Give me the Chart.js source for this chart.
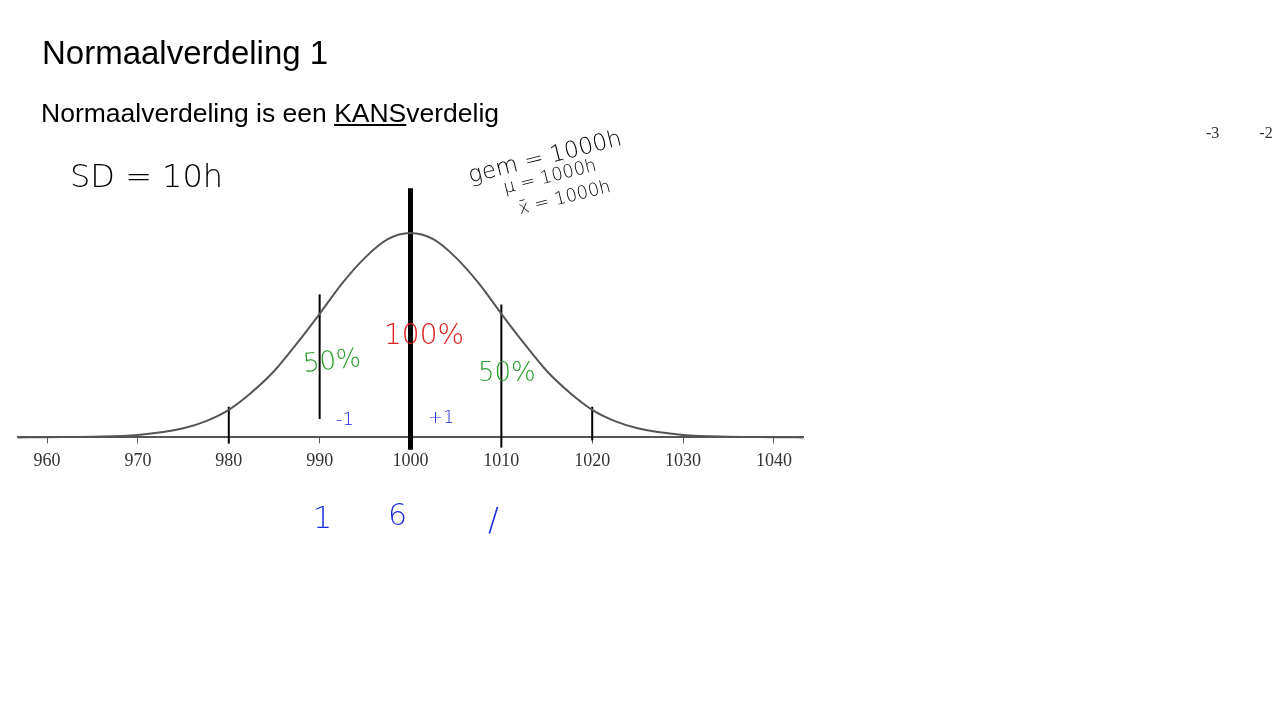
<!DOCTYPE html>
<html>
<head>
<meta charset="utf-8">
<script src="https://cdn.jsdelivr.net/npm/chart.js@4"></script>
<style>
  body { margin: 0; width: 1280px; height: 720px; background: #fff; overflow: hidden; position: relative; font-family: "Liberation Sans", Arial, sans-serif; }
  #wrap { position: absolute; left: 0; top: 0; width: 1280px; height: 720px; }
  .t { position: absolute; white-space: nowrap; }
  .hand { font-family: "DejaVu Sans", sans-serif; font-weight: 300; }
</style>
</head>
<body>
<div id="wrap"><canvas id="chart" width="1280" height="720"></canvas></div>

<div class="t" style="left:42px;top:34px;font-size:33px;color:#000">Normaalverdeling 1</div>
<div class="t" style="left:41px;top:98px;font-size:26.5px;color:#000">Normaalverdeling is een <u>KANS</u>verdelig</div>
<div class="t hand" style="left:70px;top:157px;font-size:32px;color:#000">SD = 10h</div>
<div class="t hand" style="left:466px;top:143px;font-size:23px;color:#000;transform:rotate(-14deg)">gem = 1000h</div>
<div class="t hand" style="left:502px;top:165px;font-size:18px;color:#000;transform:rotate(-14deg)">μ = 1000h</div>
<div class="t hand" style="left:517px;top:186px;font-size:18px;color:#000;transform:rotate(-14deg)">x̄ = 1000h</div>
<div class="t hand" style="left:303px;top:345px;font-size:26px;color:#2a9d2a;transform:rotate(-6deg)">50%</div>
<div class="t hand" style="left:384px;top:318px;font-size:28px;color:#e02020">100%</div>
<div class="t hand" style="left:478px;top:357px;font-size:26px;color:#2a9d2a">50%</div>
<div class="t hand" style="left:336px;top:408px;font-size:18px;color:#1a2ae0">-1</div>
<div class="t hand" style="left:428px;top:406px;font-size:18px;color:#1a2ae0">+1</div>
<div class="t hand" style="left:313px;top:500px;font-size:30px;color:#1a2ae0">1</div>
<div class="t hand" style="left:388px;top:497px;font-size:30px;color:#1a2ae0">6</div>
<div class="t hand" style="left:488px;top:500px;font-size:32px;color:#1a2ae0">/</div>
<div class="t" style="left:1206px;top:124px;font-size:16px;color:#333;font-family:'Liberation Serif',serif">-3&nbsp;&nbsp;&nbsp;&nbsp;&nbsp;&nbsp;&nbsp;&nbsp;&nbsp;&nbsp;-2</div>

<script>
// x values (hours) and curve height (peak = 100)
const xValues = [956.8, 960, 965, 970, 975, 977.5, 980, 982.5, 985, 987.5, 990, 992.5, 995, 997.5, 1000,
                 1002.5, 1005, 1007.5, 1010, 1012.5, 1015, 1017.5, 1020, 1022.5, 1025, 1030, 1035, 1040, 1043.2];
const curveHeights = [0, 0.1, 0.3, 1.2, 4.5, 8, 13.5, 22, 32.5, 46, 60.5, 75.5, 88, 97, 100,
                      97, 88, 75.5, 60.5, 46, 32.5, 22, 13.5, 8, 4.5, 1.2, 0.3, 0.1, 0];
const tickLabels = [960, 970, 980, 990, 1000, 1010, 1020, 1030, 1040];

// hand drawn vertical marks: x, bottom, top
const markX = [980, 990, 1010, 1020];
const markBottom = [-3, 9, -5, -1.5];
const markTop = [15, 70, 65, 15];
const meanX = 1000, meanBottom = -6, meanTop = 122;

const curve = xValues.map((x, i) => ({ x: x, y: curveHeights[i] }));

const datasets = [{
    data: curve,
    borderColor: '#555',
    borderWidth: 2,
    cubicInterpolationMode: 'monotone',
    pointRadius: 0,
    clip: false
}];

markX.forEach((x, i) => {
    datasets.push({
        data: [{ x: x, y: markBottom[i] }, { x: x, y: markTop[i] }],
        borderColor: '#000',
        borderWidth: 2,
        pointRadius: 0,
        clip: false
    });
});

datasets.push({
    data: [{ x: meanX, y: meanBottom }, { x: meanX, y: meanTop }],
    borderColor: '#000',
    borderWidth: 5,
    pointRadius: 0,
    clip: false
});

new Chart(document.getElementById('chart').getContext('2d'), {
    type: 'line',
    data: { datasets: datasets },
    options: {
        responsive: false,
        animation: false,
        layout: { padding: { left: 18, right: 477, top: 182, bottom: 241 } },
        plugins: { legend: { display: false }, tooltip: { enabled: false } },
        scales: {
            x: {
                type: 'linear',
                min: 956.8,
                max: 1043.2,
                afterBuildTicks: function(axis) {
                    axis.ticks = tickLabels.map(v => ({ value: v }));
                },
                ticks: {
                    color: '#333',
                    font: { family: 'Liberation Serif', size: 18 },
                    padding: 7,
                    maxRotation: 0,
                    callback: v => String(v)
                },
                grid: { drawOnChartArea: false, tickLength: 6, color: '#555' },
                border: { color: '#555', width: 2 }
            },
            y: { display: false, min: 0, max: 125 }
        }
    }
});
</script>
</body>
</html>
